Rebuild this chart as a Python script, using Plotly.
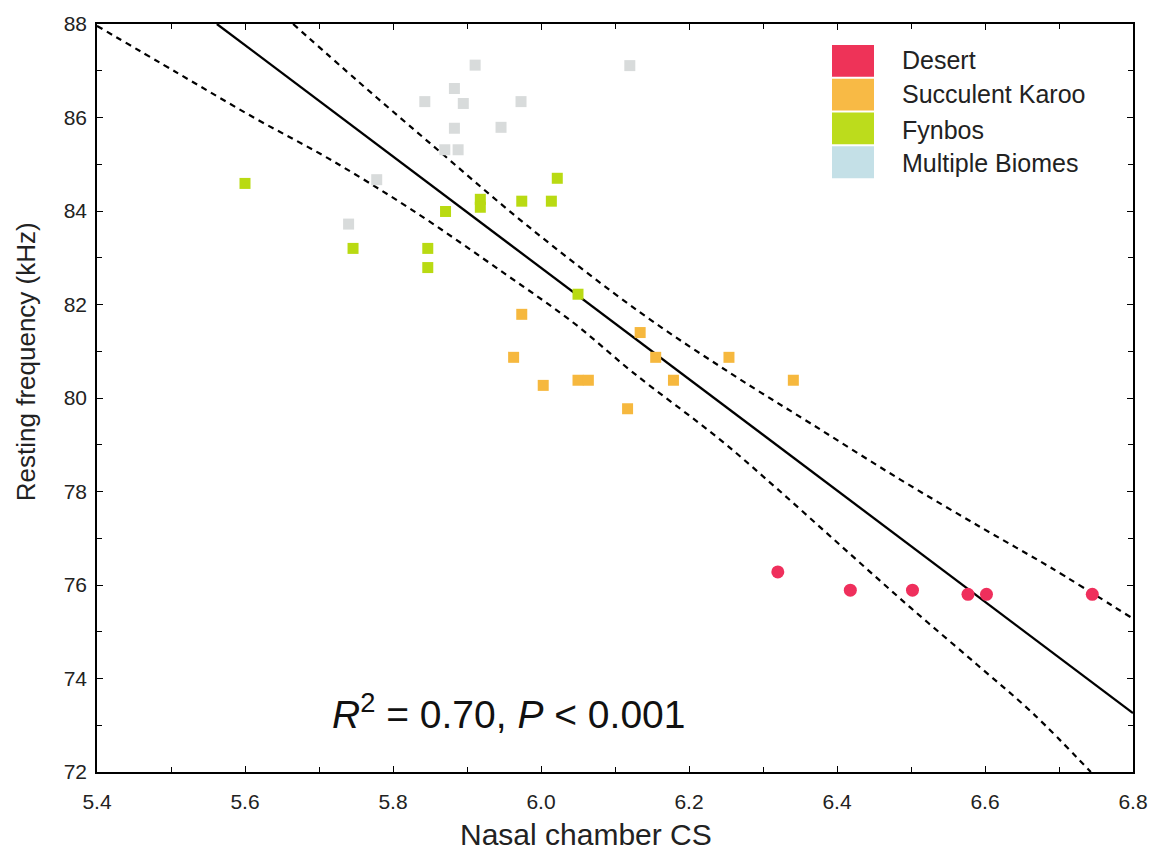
import plotly.graph_objects as go

# ---------------- data ----------------
categories = ["Desert", "Succulent Karoo", "Fynbos", "Multiple Biomes"]
legend_colors = ["#EE3358", "#F8BA45", "#BCDC1C", "#C4E0E7"]
point_colors = ["#EF2F5C", "#F6B83E", "#B9DA12", "#D8DBDB"]

desert_x = [6.320, 6.418, 6.502, 6.577, 6.602, 6.745]
desert_y = [76.28, 75.89, 75.89, 75.80, 75.80, 75.80]

karoo_x = [5.974, 5.963, 6.003, 6.050, 6.064, 6.117, 6.134, 6.155, 6.179, 6.254, 6.341]
karoo_y = [81.79, 80.87, 80.27, 80.38, 80.38, 79.77, 81.40, 80.87, 80.38, 80.87, 80.38]

fynbos_x = [5.600, 5.746, 5.847, 5.847, 5.871, 5.918, 5.918, 5.974, 6.014, 6.022, 6.050]
fynbos_y = [84.59, 83.20, 83.20, 82.79, 83.99, 84.25, 84.08, 84.21, 84.21, 84.70, 82.22]

multi_x = [5.911, 6.120, 5.883, 5.843, 5.895, 5.973, 5.883, 5.946, 5.870, 5.888, 5.778, 5.740]
multi_y = [87.12, 87.11, 86.62, 86.34, 86.30, 86.34, 85.77, 85.79, 85.31, 85.31, 84.67, 83.72]

fit_x = [5.562, 6.8]
fit_y = [88.0, 73.26]

upper_x = [5.665, 5.753, 5.847, 5.982, 6.134, 6.259, 6.364, 6.485, 6.597, 6.688, 6.8]
upper_y = [88.0, 86.77, 85.49, 83.68, 81.83, 80.50, 79.46, 78.26, 77.21, 76.38, 75.28]

lower_x = [5.4, 5.509, 5.614, 5.712, 5.826, 5.951, 6.043, 6.124, 6.242, 6.319, 6.408, 6.499, 6.589, 6.665, 6.743]
lower_y = [87.96, 86.95, 85.98, 85.13, 84.02, 82.66, 81.62, 80.55, 79.11, 78.06, 76.80, 75.52, 74.30, 73.25, 72.0]

x_ticks = [5.4, 5.6, 5.8, 6.0, 6.2, 6.4, 6.6, 6.8]
y_ticks = [72, 74, 76, 78, 80, 82, 84, 86, 88]

x_title = "Nasal chamber CS"
y_title = "Resting frequency (kHz)"
stat_text = "<i>R</i><sup>2</sup> = 0.70, <i>P</i> &lt; 0.001"

# ---------------- figure ----------------
W, H = 1160, 852
L, R, T, B = 97, 1133, 20, 772
FONT = "Arial, Liberation Sans, sans-serif"


def px_x(px):
    return (px - L) / (R - L)


def px_y(py):
    return 1 - (py - T) / (B - T)


fig = go.Figure()

dash_line = dict(color="black", width=2.2, dash="6px,5px")
fig.add_trace(go.Scatter(x=lower_x, y=lower_y, mode="lines", line=dash_line,
                         line_shape="spline", hoverinfo="skip", showlegend=False))
fig.add_trace(go.Scatter(x=upper_x, y=upper_y, mode="lines", line=dash_line,
                         line_shape="spline", hoverinfo="skip", showlegend=False))
fig.add_trace(go.Scatter(x=fit_x, y=fit_y, mode="lines",
                         line=dict(color="black", width=2.3),
                         hoverinfo="skip", showlegend=False))

series = [(desert_x, desert_y, "circle", 13),
          (karoo_x, karoo_y, "square", 11),
          (fynbos_x, fynbos_y, "square", 11),
          (multi_x, multi_y, "square", 11)]
order = [3, 2, 1, 0]
for i in order:
    xs, ys, sym, sz = series[i]
    fig.add_trace(go.Scatter(x=xs, y=ys, mode="markers", name=categories[i],
                             marker=dict(color=point_colors[i], size=sz, symbol=sym,
                                         line=dict(width=0)),
                             showlegend=False))

# manual legend (large colour blocks)
rect_tops = [41, 75, 109, 143]
rect_h = 32
text_centres = [56, 90, 127, 160]
shapes = []
annotations = []
for i, cat in enumerate(categories):
    y0 = rect_tops[i]
    shapes.append(dict(type="rect", xref="paper", yref="paper",
                       x0=px_x(832), x1=px_x(874),
                       y0=px_y(y0 + rect_h), y1=px_y(y0),
                       fillcolor=legend_colors[i], line=dict(width=0), layer="above"))
    annotations.append(dict(text=cat, xref="paper", yref="paper",
                            x=px_x(900), y=px_y(text_centres[i]),
                            xanchor="left", yanchor="middle", showarrow=False,
                            font=dict(family=FONT, size=25, color="#222")))

annotations.append(dict(text=stat_text, xref="paper", yref="paper",
                        x=px_x(508), y=px_y(711), xanchor="center", yanchor="middle",
                        showarrow=False, font=dict(family=FONT, size=39, color="#111")))

annotations.append(dict(text=x_title, xref="paper", yref="paper",
                        x=px_x(586), y=px_y(835), xanchor="center", yanchor="middle",
                        showarrow=False, font=dict(family=FONT, size=30, color="#222")))

annotations.append(dict(text=y_title, xref="paper", yref="paper", textangle=-90,
                        x=px_x(26), y=px_y(360), xanchor="center", yanchor="middle",
                        showarrow=False, font=dict(family=FONT, size=26, color="#222")))

axis_common = dict(showgrid=False, zeroline=False, showline=True, linecolor="black",
                   linewidth=1.5, mirror="ticks", ticks="inside", ticklen=6,
                   tickwidth=1.2, tickcolor="black",
                   tickfont=dict(family=FONT, size=21, color="#222"))

fig.update_layout(
    width=W, height=H,
    margin=dict(l=L, r=W - R, t=T, b=H - B),
    paper_bgcolor="white", plot_bgcolor="white",
    showlegend=False,
    shapes=shapes, annotations=annotations,
    xaxis=dict(range=[5.4, 6.8], tickvals=x_ticks, tickformat=".1f",
               minor=dict(dtick=0.1, ticks="inside", ticklen=5, tickcolor="black"),
               ticklabelstandoff=10,
               **axis_common),
    yaxis=dict(range=[72, 88], tickvals=y_ticks,
               minor=dict(dtick=1, ticks="inside", ticklen=5, tickcolor="black"),
               ticklabelstandoff=4,
               **axis_common),
)

fig.write_html("out.html")
